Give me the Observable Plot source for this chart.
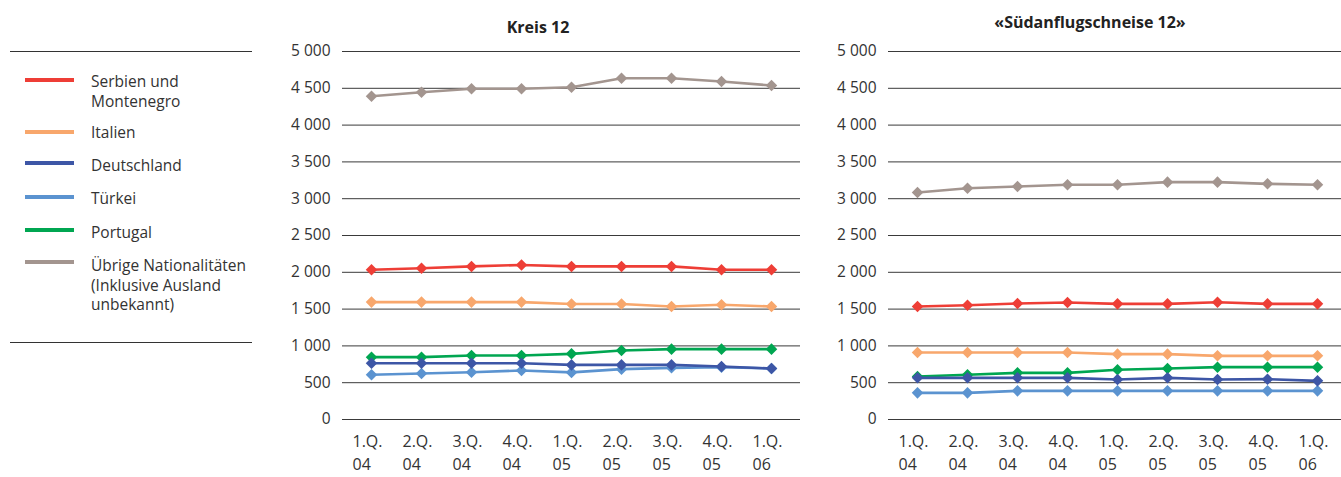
<!DOCTYPE html>
<html>
<head>
<meta charset="utf-8">
<script src="https://cdn.jsdelivr.net/npm/d3@7"></script>
<script src="https://cdn.jsdelivr.net/npm/@observablehq/plot@0.6"></script>
<style>
  html, body { margin: 0; padding: 0; background: #fff; }
  body { width: 1341px; height: 477px; position: relative; overflow: hidden; font-family: "Open Sans", sans-serif; color: #333; }
  .panel { position: absolute; top: 0; width: 520px; }
  .panel svg { max-width: none !important; }
  .title { position: absolute; font-weight: bold; font-size: 16px; color: #222; transform: translate(-50%, -50%); white-space: nowrap; }
  #legend { position: absolute; left: 0; top: 0; width: 260px; height: 477px; }
  .rule { position: absolute; left: 10px; width: 242px; height: 1px; background: #333; }
  .sw { position: absolute; left: 25px; width: 49px; height: 4px; }
  .lt { position: absolute; left: 91px; font-size: 15.5px; line-height: 19px; height: 19px; color: #333; white-space: nowrap; }
</style>
</head>
<body>
<div id="legend"></div>
<div class="title" style="left:538px; top:27px;">Kreis 12</div>
<div class="title" style="left:1090px; top:22px;">«Südanflugschneise 12»</div>
<div id="p1" class="panel" style="left:290px;"></div>
<div id="p2" class="panel" style="left:836px;"></div>
<script>
const quarters = ["1.Q. 04", "2.Q. 04", "3.Q. 04", "4.Q. 04", "1.Q. 05", "2.Q. 05", "3.Q. 05", "4.Q. 05", "1.Q. 06"];
const quarterLabels = ["1.Q.", "2.Q.", "3.Q.", "4.Q.", "1.Q.", "2.Q.", "3.Q.", "4.Q.", "1.Q."];
const yearLabels = ["04", "04", "04", "04", "05", "05", "05", "05", "06"];
const series = ["Serbien und Montenegro", "Italien", "Deutschland", "Türkei", "Portugal", "Übrige Nationalitäten (Inklusive Ausland unbekannt)"];
const legendLabels = [["Serbien und", "Montenegro"], ["Italien"], ["Deutschland"], ["Türkei"], ["Portugal"], ["Übrige Nationalitäten", "(Inklusive Ausland", "unbekannt)"]];
const colors = ["#ee3e36", "#f8a76c", "#3d56a6", "#5b93d0", "#00a651", "#a3958f"];
const yTicks = [0, 500, 1000, 1500, 2000, 2500, 3000, 3500, 4000, 4500, 5000];

// Kreis 12
const kreisSerbien  = [2035, 2055, 2080, 2100, 2080, 2080, 2080, 2035, 2035];
const kreisItalien  = [1595, 1595, 1595, 1595, 1570, 1570, 1535, 1560, 1535];
const kreisDeutsch  = [765, 765, 765, 765, 742, 742, 742, 720, 693];
const kreisTuerkei  = [607, 625, 643, 666, 640, 684, 702, 711, 693];
const kreisPortugal = [847, 847, 870, 870, 892, 937, 956, 956, 956];
const kreisUebrige  = [4393, 4447, 4493, 4493, 4515, 4637, 4637, 4592, 4538];

// «Südanflugschneise 12»
const sudSerbien  = [1535, 1553, 1576, 1590, 1571, 1571, 1594, 1571, 1571];
const sudItalien  = [910, 910, 910, 910, 888, 888, 865, 865, 865];
const sudDeutsch  = [566, 566, 566, 566, 543, 566, 543, 548, 525];
const sudTuerkei  = [362, 362, 389, 389, 389, 389, 389, 389, 389];
const sudPortugal = [584, 607, 634, 634, 675, 693, 711, 711, 711];
const sudUebrige  = [3084, 3143, 3166, 3189, 3189, 3225, 3225, 3202, 3189];

function toRows(arrays) {
  const rows = [];
  arrays.forEach((vals, si) => vals.forEach((v, qi) => rows.push({series: series[si], q: quarters[qi], value: v})));
  return rows;
}

const fmt = d => d3.format(",")(d).replace(/,/g, " ");

function makePanel(arrays) {
  const data = toRows(arrays);
  const order = [5, 0, 1, 4, 3, 2];
  const marks = [
    Plot.ruleY(yTicks, {stroke: "#3a3a3a", strokeWidth: 1}),
  ];
  for (const si of order) {
    const d = data.filter(r => r.series === series[si]);
    marks.push(Plot.line(d, {x: "q", y: "value", stroke: colors[si], strokeWidth: 2.6}));
    marks.push(Plot.dot(d, {x: "q", y: "value", fill: colors[si], symbol: "diamond2", r: 5.2, stroke: "none"}));
  }
  marks.push(Plot.text(quarterLabels, {x: (d, i) => quarters[i], frameAnchor: "bottom", dy: 27, dx: -19, textAnchor: "start", fontSize: 16, fill: "#333"}));
  marks.push(Plot.text(yearLabels, {x: (d, i) => quarters[i], frameAnchor: "bottom", dy: 50, dx: -19, textAnchor: "start", fontSize: 16, fill: "#333"}));
  return Plot.plot({
    width: 520,
    height: 477,
    marginLeft: 52,
    marginRight: 10,
    marginTop: 51,
    marginBottom: 58,
    style: {fontFamily: "'Open Sans', sans-serif", fontSize: "15.5px", color: "#333", background: "transparent", maxWidth: "none"},
    x: {type: "point", domain: quarters, padding: 0.5, axis: null},
    y: {domain: [0, 5000], ticks: yTicks, tickFormat: fmt, tickSize: 0, tickPadding: 12, label: null},
    marks
  });
}

document.getElementById("p1").appendChild(makePanel([kreisSerbien, kreisItalien, kreisDeutsch, kreisTuerkei, kreisPortugal, kreisUebrige]));
document.getElementById("p2").appendChild(makePanel([sudSerbien, sudItalien, sudDeutsch, sudTuerkei, sudPortugal, sudUebrige]));

// legend
const lg = document.getElementById("legend");
const swY = [80, 132, 163, 197, 230, 262];
const txY = [72, 123, 156, 189, 223, 256];
lg.innerHTML += `<div class="rule" style="top:51px"></div><div class="rule" style="top:342px"></div>`;
legendLabels.forEach((lines, i) => {
  lg.innerHTML += `<div class="sw" style="top:${swY[i]-2}px;background:${colors[i]}"></div>`;
  lines.forEach((ln, j) => {
    lg.innerHTML += `<div class="lt" style="top:${txY[i] + j * 19.5}px">${ln}</div>`;
  });
});
</script>
</body>
</html>
